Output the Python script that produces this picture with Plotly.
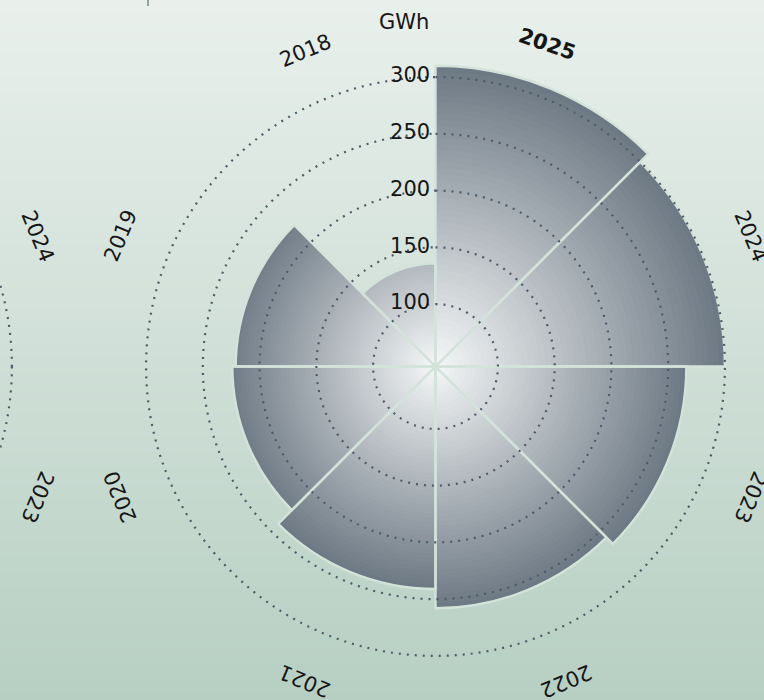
import numpy as np
import plotly.graph_objects as go

# ---------------- data ----------------
years = ["2025", "2024", "2023", "2022", "2021", "2020", "2019", "2018"]
values = [310, 300, 266, 258, 241, 224, 221, 136]          # GWh
tick_vals = [100, 150, 200, 250, 300]
tick_text = ["100", "150", "200", "250", "300"]
unit_label = "GWh"
highlight_year = "2025"
neighbour_years = ["2024", "2023"]   # labels visible from the neighbouring (cropped) chart

# ---------------- geometry / style ----------------
W, H = 764, 700
CX, CY = 435.5, 366.5          # polar centre in page pixels
R_MIN, R_MAX = 45.0, 315.0
PX_PER_UNIT = 1.135
RAD = (R_MAX - R_MIN) * PX_PER_UNIT
LABEL_R = 341                  # px, angular label radius
NEIGHBOUR_DX = -713            # px offset of cropped neighbour chart
FONT = "DejaVu Sans"
FS = 21
TXT = "#161616"
DOT = "#4f5b69"
GAP = "#d3e3da"
GRAD_MIN_PX = 210              # minimum gradient radius (px) for a bar

n = len(years)
step = 360.0 / n
theta = [step / 2 + i * step for i in range(n)]


def lerp(c0, c1, t):
    t = min(max(t, 0.0), 1.0)
    return tuple(c0[j] + (c1[j] - c0[j]) * t for j in range(3))


def rgb(c):
    return "rgb(%d,%d,%d)" % tuple(int(round(x)) for x in c)


BAR_IN = (245, 247, 247)
BAR_OUT = (108, 120, 131)

fig = go.Figure()

# gradient bars: each bar split in thin radial bands
N_BANDS = 50
for k in range(N_BANDS):
    bases, lens, cols = [], [], []
    for v in values:
        span = v - R_MIN
        b = R_MIN + span * k / N_BANDS
        e = R_MIN + span * (k + 1) / N_BANDS
        mid_px = (b + e) / 2 - R_MIN
        mid_px *= PX_PER_UNIT
        scale_px = max(span * PX_PER_UNIT, GRAD_MIN_PX)
        if k < N_BANDS - 1:
            e += span * 0.6 / N_BANDS
        bases.append(b)
        lens.append(e - b)
        cols.append(rgb(lerp(BAR_IN, BAR_OUT, mid_px / scale_px)))
    fig.add_trace(go.Barpolar(
        r=lens, base=bases, theta=theta, width=[step] * n,
        marker=dict(color=cols, line=dict(width=0)),
        hoverinfo="skip", showlegend=False))

# light separators / outline of the bars
fig.add_trace(go.Barpolar(
    r=[v - R_MIN for v in values], base=[R_MIN] * n, theta=theta, width=[step] * n,
    marker=dict(color="rgba(0,0,0,0)", line=dict(color=GAP, width=2.4)),
    text=years, hovertemplate="%{text}: %{customdata} GWh<extra></extra>",
    customdata=values, showlegend=False))

# dotted grid circles drawn above the bars
circ = np.linspace(0, 360, 721)
for tv in tick_vals:
    fig.add_trace(go.Scatterpolar(
        r=[tv] * len(circ), theta=circ, mode="lines",
        line=dict(color=DOT, width=2.2, dash="2px,6px"),
        hoverinfo="skip", showlegend=False))

# radial tick labels (horizontal, left of the north axis)
fig.add_trace(go.Scatterpolar(
    r=tick_vals, theta=[0] * len(tick_vals), mode="markers+text",
    text=tick_text, textposition="middle left",
    marker=dict(size=7, color="rgba(0,0,0,0)"),
    textfont=dict(family=FONT, size=FS, color=TXT),
    hoverinfo="skip", showlegend=False, cliponaxis=False))

fig.update_layout(
    width=W, height=H,
    margin=dict(l=0, r=0, t=0, b=0),
    paper_bgcolor="#e9f0ec",
    showlegend=False,
    polar=dict(
        domain=dict(x=[(CX - RAD) / W, (CX + RAD) / W],
                    y=[(H - CY - RAD) / H, (H - CY + RAD) / H]),
        bgcolor="rgba(0,0,0,0)",
        angularaxis=dict(type="linear", rotation=90, direction="clockwise",
                         showgrid=False, showline=False,
                         showticklabels=False, ticks=""),
        radialaxis=dict(range=[R_MIN, R_MAX], showgrid=False, showline=False,
                        ticks="", showticklabels=False),
    ),
)

# background vertical gradient (bands)
TOP = (233, 240, 236)
BOT = (183, 207, 195)
NB = 175
shapes = []
for i in range(NB):
    y0 = 1 - i / NB
    y1 = 1 - (i + 1) / NB
    shapes.append(dict(type="rect", xref="paper", yref="paper", x0=0, x1=1,
                       y0=y1 - 0.001, y1=y0, layer="below", line=dict(width=0),
                       fillcolor=rgb(lerp(TOP, BOT, (i + 0.5) / NB))))

# neighbouring chart's outer grid circle (cropped at the left edge)
r300 = (tick_vals[-1] - R_MIN) * PX_PER_UNIT
ncx = CX + NEIGHBOUR_DX
shapes.append(dict(type="circle", xref="paper", yref="paper",
                   x0=(ncx - r300) / W, x1=(ncx + r300) / W,
                   y0=1 - (CY + r300) / H, y1=1 - (CY - r300) / H,
                   line=dict(color=DOT, width=2.2, dash="2px,6px"), layer="above"))
# small divider tick at the top
shapes.append(dict(type="line", xref="paper", yref="paper",
                   x0=148 / W, x1=148 / W, y0=1, y1=1 - 6 / H,
                   line=dict(color="#90a5a1", width=2)))
fig.update_layout(shapes=shapes)

annotations = []


def ang_label(txt, ang, cx, bold=False):
    rad = np.deg2rad(ang)
    x = cx + LABEL_R * np.sin(rad)
    y = CY - LABEL_R * np.cos(rad)
    ta = ang if ang <= 180 else ang - 360
    return dict(x=x / W, y=1 - y / H, xref="paper", yref="paper",
                text="<b>%s</b>" % txt if bold else txt, showarrow=False,
                textangle=ta, xanchor="center", yanchor="middle",
                font=dict(family=FONT, size=FS, color=TXT))


for yr, th in zip(years, theta):
    hl = (yr == highlight_year)
    annotations.append(ang_label(yr, th - (3.5 if hl else 0), CX, bold=hl))
for yr in neighbour_years:
    annotations.append(ang_label(yr, theta[years.index(yr)], ncx))

annotations.append(dict(x=431 / W, y=1 - 22 / H, xref="paper", yref="paper",
                        text=unit_label, showarrow=False, xanchor="right",
                        yanchor="middle", font=dict(family=FONT, size=FS, color=TXT)))
fig.update_layout(annotations=annotations)

fig.write_html("out.html")
